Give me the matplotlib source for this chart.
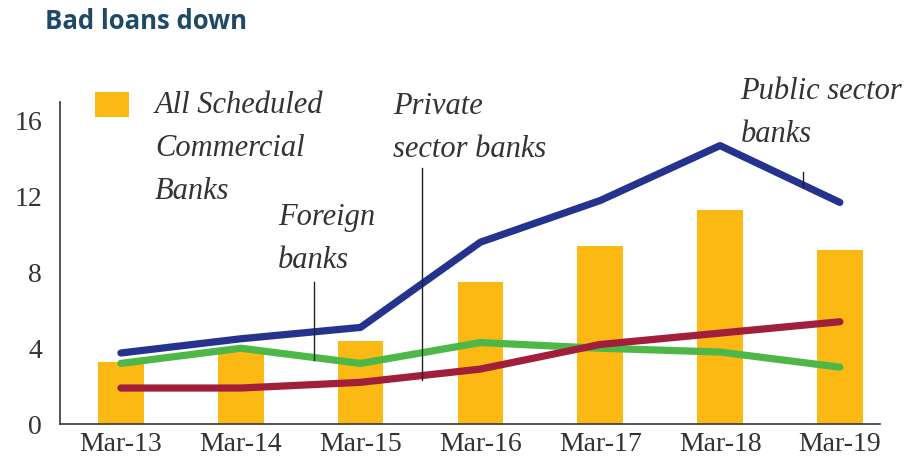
import matplotlib.pyplot as plt
from matplotlib.patches import Rectangle
from matplotlib.legend_handler import HandlerPatch

# data (gross NPA ratio, %)
years = ["Mar-13", "Mar-14", "Mar-15", "Mar-16", "Mar-17", "Mar-18", "Mar-19"]
all_scb = [3.3, 3.9, 4.4, 7.5, 9.4, 11.3, 9.2]
public_sector = [3.75, 4.5, 5.1, 9.6, 11.8, 14.7, 11.7]
private_sector = [1.9, 1.9, 2.2, 2.9, 4.2, 4.8, 5.4]
foreign_banks = [3.2, 4.0, 3.2, 4.3, 4.0, 3.8, 3.0]
yticks = [0, 4, 8, 12, 16]

BAR = "#FDB913"
BLUE = "#25338F"
RED = "#A21F3C"
GREEN = "#4DB848"
TXT = "#333333"

serif = "Liberation Serif"
LAB_SIZE = 22
LAB_SPACING = 1.64

fig = plt.figure(figsize=(9.14, 4.68), dpi=100)
ax = fig.add_axes([0.0656, 0.094, 0.8972, 0.688])

x = list(range(len(years)))
bars = ax.bar(x, all_scb, width=0.38, color=BAR, zorder=1)

line_kw = dict(lw=5.2, solid_capstyle="round", solid_joinstyle="round", zorder=3)
ax.plot(x, foreign_banks, color=GREEN, **line_kw)
ax.plot(x, private_sector, color=RED, **line_kw)
ax.plot(x, public_sector, color=BLUE, **line_kw)

ax.set_xlim(-0.509, 6.335)
ax.set_ylim(0, 17)
ax.set_xticks(x)
ax.set_xticklabels(years, fontfamily=serif, fontsize=20, color=TXT)
ax.set_yticks(yticks)
ax.set_yticklabels([str(v) for v in yticks], fontfamily=serif, fontsize=20, color=TXT)
ax.tick_params(axis="both", length=0)
ax.tick_params(axis="y", pad=13)
ax.tick_params(axis="x", pad=6)

for side in ["top", "right"]:
    ax.spines[side].set_visible(False)
for side in ["left", "bottom"]:
    ax.spines[side].set_color("#444444")
    ax.spines[side].set_linewidth(1.3)


# legend square sits at the top of the three-line label
def top_square(legend, orig_handle, xdescent, ydescent, width, height, fontsize):
    h = 0.82 * fontsize
    return Rectangle((-xdescent, -ydescent + height - 0.2 * fontsize), width, h)


leg = ax.legend([bars.patches[0]], ["All Scheduled\nCommercial\nBanks"],
                loc="upper left", bbox_to_anchor=(0.043, 1.035),
                frameon=False, borderpad=0, borderaxespad=0,
                handlelength=1.1, handleheight=3.7, handletextpad=0.85,
                prop=dict(family=serif, style="italic", size=LAB_SIZE),
                handler_map={bars.patches[0]: HandlerPatch(patch_func=top_square)})
for t in leg.get_texts():
    t.set_color(TXT)
    t.set_linespacing(LAB_SPACING)

# series labels with leader lines
lab_kw = dict(fontfamily=serif, style="italic", fontsize=LAB_SIZE, color=TXT,
              ha="left", va="center", linespacing=LAB_SPACING)
ax.text(1.31, 9.77, "Foreign\nbanks", **lab_kw)
ax.text(2.27, 15.64, "Private\nsector banks", **lab_kw, clip_on=False)
ax.text(5.17, 16.44, "Public sector\nbanks", **lab_kw, clip_on=False)

lead_kw = dict(color="#222222", lw=1.0, zorder=4)
ax.plot([1.61, 1.61], [7.5, 3.4], **lead_kw)
ax.plot([2.51, 2.51], [13.5, 2.3], **lead_kw)
ax.plot([5.69, 5.69], [13.3, 12.5], **lead_kw)

fig.text(0.049, 0.955, "Bad loans down", fontfamily="Open Sans", fontweight="bold",
         fontsize=18.5, color="#1E4A67", ha="left", va="center")

fig.savefig("out.png", dpi=100)
